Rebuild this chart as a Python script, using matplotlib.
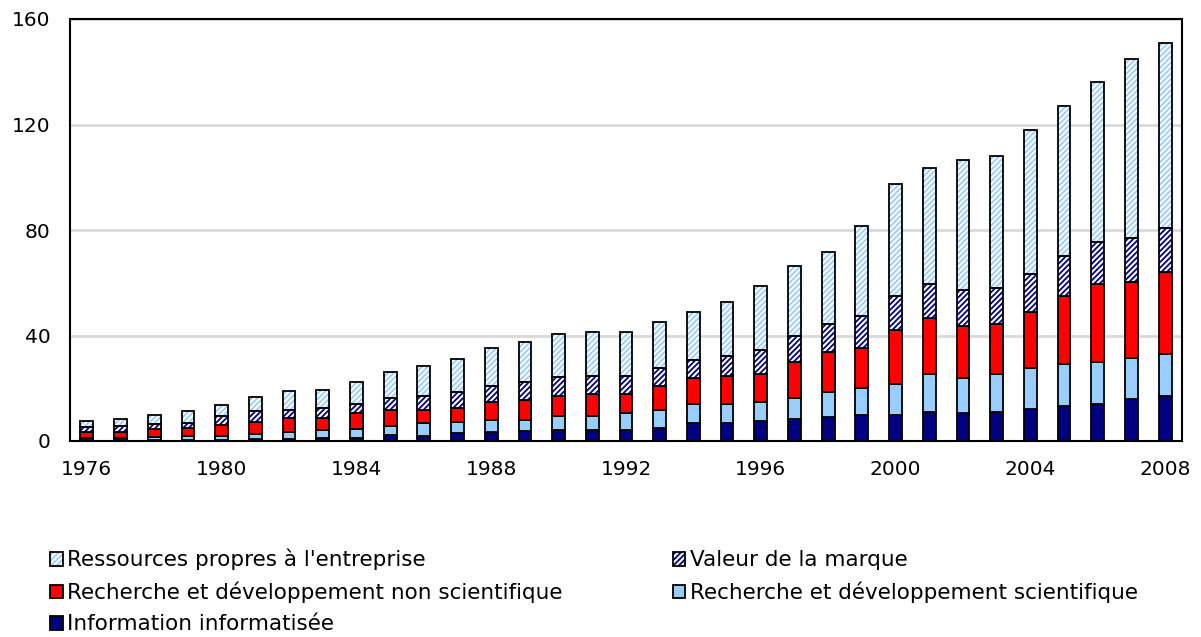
import numpy as np
import matplotlib
matplotlib.use("Agg")
import matplotlib.pyplot as plt
from matplotlib.patches import Patch
from matplotlib.legend_handler import HandlerTuple

plt.rcParams['font.family'] = ['DejaVu Sans']
plt.rcParams['hatch.linewidth'] = 1.3

years = list(range(1976, 2009))

# stacked components, bottom to top
info = [0.3, 0.3, 0.4, 0.4, 0.5, 0.6, 0.8, 1.0, 1.3, 2.3, 2.0, 2.9, 3.5, 3.7, 4.3, 4.3, 4.3,
        5.0, 6.7, 6.7, 7.4, 8.2, 9.0, 9.7, 9.7, 11.0, 10.5, 11.0, 12.0, 13.4, 14.2, 15.8, 17.2]
rd_sci = [1.0, 1.0, 1.0, 1.5, 1.4, 2.1, 2.6, 3.3, 3.1, 3.5, 4.7, 4.4, 4.6, 4.3, 5.3, 5.3, 6.2,
          6.9, 7.5, 7.5, 7.5, 8.2, 9.7, 10.5, 12.0, 14.4, 13.4, 14.4, 15.7, 15.8, 15.9, 15.8, 15.9]
rd_nonsci = [2.2, 2.2, 3.0, 3.0, 4.3, 4.5, 5.3, 4.5, 6.1, 6.0, 5.2, 5.2, 6.7, 7.5, 7.6, 8.3, 7.4,
             9.0, 9.7, 10.6, 10.5, 13.7, 15.2, 15.2, 20.4, 21.1, 19.7, 19.1, 21.1, 25.8, 29.3, 28.6, 30.9]
brand = [1.7, 2.2, 1.9, 2.0, 3.4, 4.2, 3.1, 3.8, 3.5, 4.5, 5.3, 6.2, 6.2, 7.0, 6.9, 6.7, 6.7,
         6.9, 6.8, 7.4, 9.2, 9.8, 10.6, 12.1, 13.0, 12.9, 13.7, 13.6, 14.5, 15.1, 16.0, 16.6, 16.6]
firm = [2.5, 2.6, 3.6, 4.6, 3.9, 5.3, 7.0, 6.9, 8.5, 10.0, 11.4, 12.3, 14.4, 15.1, 16.5, 16.8, 16.8,
        17.4, 18.3, 20.6, 24.3, 26.6, 27.3, 34.0, 42.5, 44.0, 49.1, 50.0, 54.6, 56.8, 60.6, 68.2, 70.4]

labels = ["Information informatisée",
          "Recherche et développement scientifique",
          "Recherche et développement non scientifique",
          "Valeur de la marque",
          "Ressources propres à l'entreprise"]

navy = "#000080"
lblue = "#99CCFF"
red = "#FF0000"

fig = plt.figure(figsize=(12.01, 6.37), dpi=100)
ax = fig.add_axes([70 / 1201, 1 - 441 / 637, 1112 / 1201, 422 / 637])

x = np.array(years)
w = 0.38
bottom = np.zeros(len(years))
handles = []

# solid series
for vals, col in [(info, navy), (rd_sci, lblue), (rd_nonsci, red)]:
    ax.bar(x, vals, w, bottom=bottom, color=col, edgecolor="black", linewidth=1.3, zorder=3)
    handles.append(Patch(facecolor=col, edgecolor="black", linewidth=1.3))
    bottom += np.array(vals)

# hatched series: white face, coloured hatch, black outline
for vals, col in [(brand, navy), (firm, lblue)]:
    ax.bar(x, vals, w, bottom=bottom, color="white", edgecolor=col, hatch="//////",
           linewidth=0, zorder=3)
    ax.bar(x, vals, w, bottom=bottom, color="none", edgecolor="black", linewidth=1.3, zorder=4)
    handles.append((Patch(facecolor="white", edgecolor=col, hatch="//////", linewidth=0),
                    Patch(facecolor="none", edgecolor="black", linewidth=1.3)))
    bottom += np.array(vals)

ax.set_xlim(1975.5, 2008.5)
ax.set_ylim(0, 160)
ax.set_yticks([0, 40, 80, 120, 160])
ax.set_xticks(range(1976, 2009, 4))
ax.tick_params(axis="both", length=0, labelsize=14.5)
ax.tick_params(axis="y", pad=14)
ax.tick_params(axis="x", pad=14)
ax.yaxis.grid(True, color="#d9d9d9", linewidth=2, zorder=0)
ax.set_axisbelow(True)
for s in ax.spines.values():
    s.set_linewidth(1.5)
    s.set_color("black")

# legend order: column-wise in matplotlib
order = [4, 2, 0, 3, 1]
fig.legend([handles[i] for i in order], [labels[i] for i in order],
           ncol=2, loc="upper left", bbox_to_anchor=(50 / 1201, 1 - 549 / 637),
           frameon=False, fontsize=15.5, handlelength=0.6, handleheight=0.6,
           handletextpad=0.2, labelspacing=0.52, columnspacing=5.1,
           borderpad=0, borderaxespad=0,
           handler_map={tuple: HandlerTuple(ndivide=1)})

fig.savefig("out.png", dpi=100)
